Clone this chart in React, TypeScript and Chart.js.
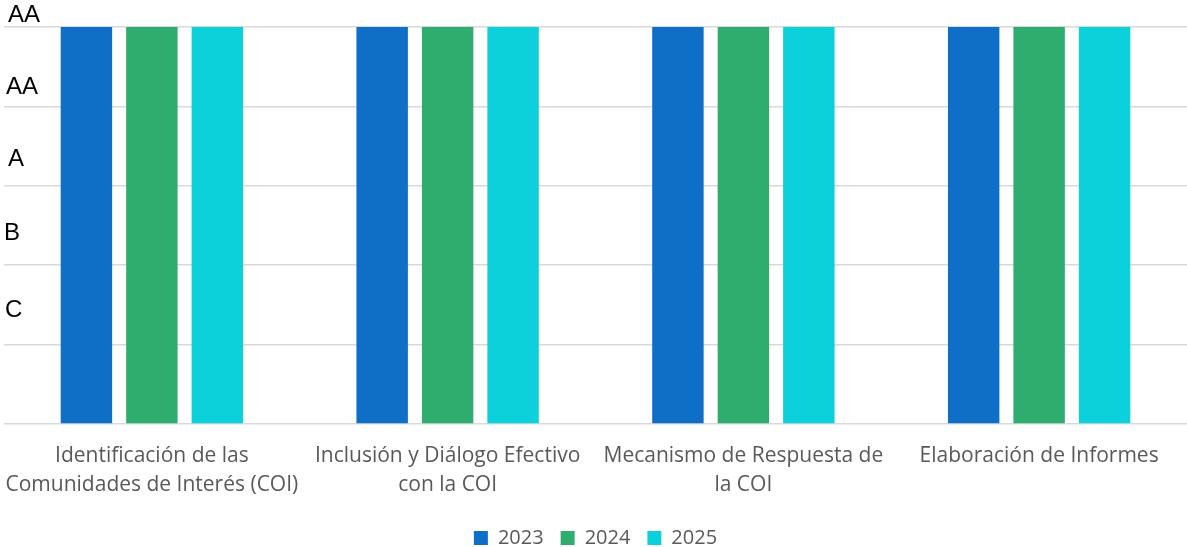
import React, { useEffect, useRef } from "react";
import { Chart, registerables } from "chart.js";

Chart.register(...registerables);

const categories: string[][] = [
  ["Identificación de las", "Comunidades de Interés (COI)"],
  ["Inclusión y Diálogo Efectivo", "con la COI"],
  ["Mecanismo de Respuesta de", "la COI"],
  ["Elaboración de Informes"],
];
const seriesNames = ["2023", "2024", "2025"];
const values2023 = [5, 5, 5, 5];
const values2024 = [5, 5, 5, 5];
const values2025 = [5, 5, 5, 5];
const colors = ["#0F6FC6", "#2EAD6F", "#0DD1DA"];
// rating labels for grid levels 1..5
const levelLabels = ["C", "B", "A", "AA", "AA"];
const levelValues = [1, 2, 3, 4, 5];

const levelLabelPlugin = {
  id: "levelLabels",
  afterDraw(chart: any) {
    const ctx = chart.ctx;
    const y = chart.scales.y;
    const lift = [34.5, 32, 26.5, 19.5, 12];
    const xs = [5, 4, 8, 6, 8];
    ctx.save();
    ctx.fillStyle = "#000000";
    ctx.font = "24px 'Liberation Sans', Arial, sans-serif";
    ctx.textAlign = "left";
    ctx.textBaseline = "middle";
    levelLabels.forEach((t, i) => {
      ctx.fillText(t, xs[i], y.getPixelForValue(levelValues[i]) - lift[i]);
    });
    ctx.restore();
  },
};

export default function App() {
  const ref = useRef<HTMLCanvasElement | null>(null);
  useEffect(() => {
    document.body.style.margin = "0";
    document.documentElement.style.overflow = "hidden";
    document.body.style.overflow = "hidden";
    const chart = new Chart(ref.current!, {
      type: "bar",
      data: {
        labels: categories,
        datasets: [values2023, values2024, values2025].map((d, i) => ({
          label: seriesNames[i],
          data: d,
          backgroundColor: colors[i],
          borderWidth: 0,
          categoryPercentage: 0.664,
          barPercentage: 0.786,
        })),
      },
      options: {
        responsive: false,
        animation: false,
        layout: { padding: { top: 27, left: 4, right: 0, bottom: 0 } },
        scales: {
          x: {
            grid: { display: false },
            border: { display: false },
            ticks: {
              color: "#595959",
              font: { family: "'Open Sans', sans-serif", size: 21, lineHeight: 1.4 },
              padding: 9,
              maxRotation: 0,
              autoSkip: false,
            },
            afterFit(scale: any) {
              scale.height = 87;
              scale.paddingLeft = 0;
              scale.paddingRight = 0;
            },
          },
          y: {
            min: 0,
            max: 5,
            ticks: { stepSize: 1, display: false },
            grid: { color: "#D9D9D9", lineWidth: 1.5, drawTicks: false },
            border: { display: false },
          },
        },
        plugins: {
          legend: {
            position: "bottom",
            labels: {
              boxWidth: 14,
              boxHeight: 14,
              color: "#595959",
              font: { family: "'Open Sans', sans-serif", size: 20 },
              padding: 17,
            },
          },
          tooltip: { enabled: false },
        },
      },
      plugins: [levelLabelPlugin],
    });
    return () => chart.destroy();
  }, []);
  return (
    <div style={{ width: 1187, height: 547, overflow: "hidden" }}>
      <canvas ref={ref} width={1187} height={558} />
    </div>
  );
}
